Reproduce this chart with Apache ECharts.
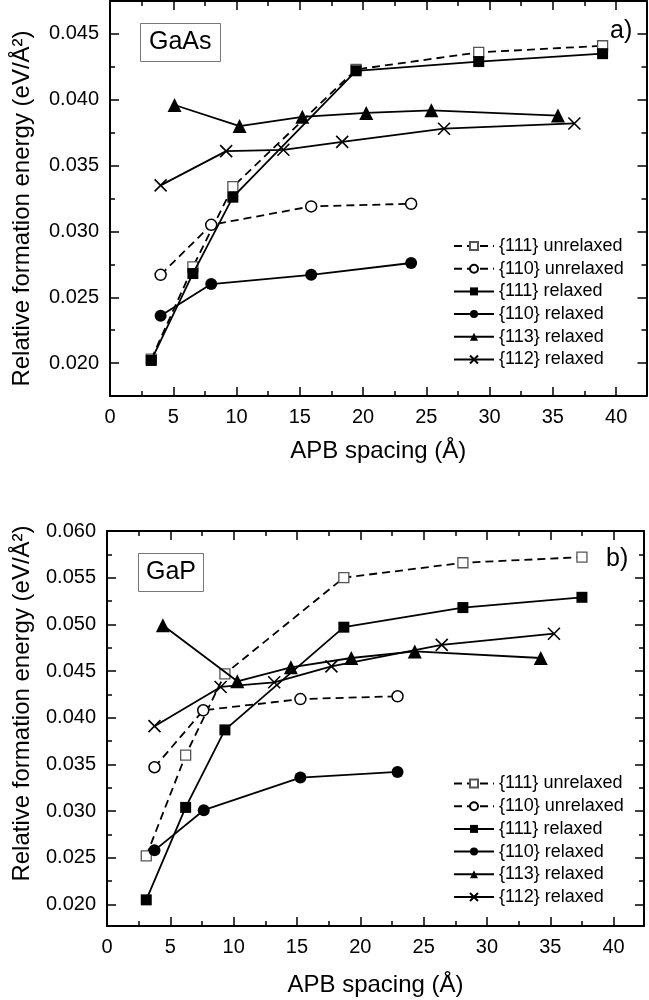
<!DOCTYPE html>
<html><head><meta charset="utf-8">
<script src="https://cdn.jsdelivr.net/npm/echarts@6/dist/echarts.min.js"></script>
<style>html,body{margin:0;padding:0;background:#fff}#c{width:649px;height:1000px}</style>
</head><body><div id="c"></div>
<script>
// ---- Data ----
const seriesNames = ['{111} unrelaxed', '{110} unrelaxed', '{111} relaxed', '{110} relaxed', '{113} relaxed', '{112} relaxed'];

// GaAs (panel a)
const gaas111uX = [3.26, 6.55, 9.71, 19.45, 29.14, 38.93];
const gaas111uY = [0.0203, 0.0273, 0.0334, 0.0423, 0.0436, 0.0441];
const gaas110uX = [4.0, 8.0, 15.9, 23.8];
const gaas110uY = [0.0267, 0.0305, 0.0319, 0.0321];
const gaas111rX = [3.26, 6.55, 9.71, 19.45, 29.14, 38.93];
const gaas111rY = [0.0202, 0.0268, 0.0326, 0.0422, 0.0429, 0.0435];
const gaas110rX = [4.0, 8.0, 15.9, 23.8];
const gaas110rY = [0.0236, 0.0260, 0.0267, 0.0276];
const gaas113rX = [5.1, 10.24, 15.2, 20.25, 25.4, 35.4];
const gaas113rY = [0.0396, 0.0380, 0.0387, 0.0390, 0.0392, 0.0388];
const gaas112rX = [4.0, 9.18, 13.7, 18.35, 26.4, 36.7];
const gaas112rY = [0.0335, 0.0361, 0.0362, 0.0368, 0.0378, 0.0382];

// GaP (panel b)
const gap111uX = [3.1, 6.21, 9.31, 18.7, 28.1, 37.5];
const gap111uY = [0.0252, 0.0360, 0.0447, 0.0550, 0.0566, 0.0572];
const gap110uX = [3.75, 7.6, 15.27, 22.94];
const gap110uY = [0.0347, 0.0408, 0.0420, 0.0423];
const gap111rX = [3.1, 6.21, 9.31, 18.7, 28.1, 37.5];
const gap111rY = [0.0205, 0.0304, 0.0387, 0.0497, 0.0518, 0.0529];
const gap110rX = [3.75, 7.64, 15.27, 22.94];
const gap110rY = [0.0258, 0.0301, 0.0336, 0.0342];
const gap113rX = [4.41, 10.29, 14.52, 19.29, 24.3, 34.25];
const gap113rY = [0.0499, 0.0439, 0.0454, 0.0464, 0.0471, 0.0464];
const gap112rX = [3.75, 8.97, 13.2, 17.72, 26.43, 35.29];
const gap112rY = [0.0391, 0.0433, 0.0438, 0.0455, 0.0478, 0.0490];

// axis ranges / ticks
const xRange = [0, 42.4];
const xStep = 5;
const yRangeA = [0.0175, 0.0475];
const yRangeB = [0.0177, 0.060];
const yStep = 0.005;

// ---- Chart ----
const FONT = "'Liberation Sans', Arial, sans-serif";
const chart = echarts.init(document.getElementById('c'), null, {renderer: 'canvas'});

const tickStyle = {color: '#000', width: 1.5};
function yFmt(v) {
  const k = v / yStep;
  return Math.abs(k - Math.round(k)) < 1e-6 ? v.toFixed(3) : '';
}
function xFmt(v) {
  const k = v / xStep;
  return Math.abs(k - Math.round(k)) < 1e-6 ? String(Math.round(v)) : '';
}
function xAxisDef(gi, pos, nameGap) {
  return {
    type: 'value', gridIndex: gi, position: pos, min: xRange[0], max: xRange[1], interval: xStep,
    axisLine: {show: true, onZero: false, lineStyle: {color: '#000', width: 2}},
    axisTick: {show: true, inside: true, length: 9, lineStyle: tickStyle},
    minorTick: {show: true, splitNumber: 2, length: 5, lineStyle: tickStyle},
    splitLine: {show: false}, minorSplitLine: {show: false},
    axisLabel: {show: pos === 'bottom', color: '#000', fontSize: 20, fontFamily: FONT, margin: 11,
      showMaxLabel: false, formatter: xFmt},
    name: pos === 'bottom' ? 'APB spacing (Å)' : '', nameLocation: 'middle', nameGap: nameGap,
    nameTextStyle: {color: '#000', fontSize: 24, fontFamily: FONT}
  };
}
function yAxisDef(gi, pos, range, nameGap, pad) {
  return {
    type: 'value', gridIndex: gi, position: pos, min: range[0], max: range[1],
    minInterval: yStep, maxInterval: yStep,
    axisLine: {show: true, onZero: false, lineStyle: {color: '#000', width: 2}},
    axisTick: {show: true, inside: true, length: 9, lineStyle: tickStyle},
    minorTick: {show: true, splitNumber: 2, length: 5, lineStyle: tickStyle},
    splitLine: {show: false}, minorSplitLine: {show: false},
    axisLabel: {show: pos === 'left', color: '#000', fontSize: 20, fontFamily: FONT, margin: 11,
      showMinLabel: false, showMaxLabel: true, formatter: yFmt},
    name: pos === 'left' ? 'Relative formation energy (eV/Å²)' : '', nameLocation: 'middle', nameGap: nameGap,
    nameTextStyle: {color: '#000', fontSize: 24, fontFamily: FONT, padding: pad}
  };
}

const styles = [
  {symbol: 'rect', symbolSize: 10, itemStyle: {color: '#fff', borderColor: '#555', borderWidth: 1.3}, dash: [8, 5]},
  {symbol: 'circle', symbolSize: 11, itemStyle: {color: '#fff', borderColor: '#000', borderWidth: 1.5}, dash: [8, 5]},
  {symbol: 'rect', symbolSize: 11, itemStyle: {color: '#000', borderColor: '#000', borderWidth: 0}, dash: 'solid'},
  {symbol: 'circle', symbolSize: 12, itemStyle: {color: '#000', borderColor: '#000', borderWidth: 0}, dash: 'solid'},
  {symbol: 'triangle', symbolSize: 14, itemStyle: {color: '#000', borderColor: '#000', borderWidth: 0}, dash: 'solid'},
  {symbol: 'path://M0,0L10,10M10,0L0,10', symbolSize: 12, itemStyle: {color: '#000', borderColor: '#000', borderWidth: 1.6}, dash: 'solid'}
];

function mk(idx, xs, ys, axisIdx) {
  const st = styles[idx];
  return {
    type: 'line', name: seriesNames[idx], xAxisIndex: axisIdx, yAxisIndex: axisIdx,
    data: xs.map((x, i) => [x, ys[i]]),
    symbol: st.symbol, symbolSize: st.symbolSize, showSymbol: true, showAllSymbol: true,
    color: '#000',
    itemStyle: st.itemStyle,
    lineStyle: {color: '#000', width: 1.8, type: st.dash},
    emphasis: {disabled: true}, z: 2 + idx
  };
}

const legendBase = {
  data: seriesNames, orient: 'vertical', left: 448, itemWidth: 40, itemHeight: 10, itemGap: 4.7,
  selectedMode: false, textStyle: {color: '#000', fontSize: 18, lineHeight: 18, fontFamily: FONT}
};

const boxTitle = (text, left, top, padH) => ({
  text: text, left: left, top: top, padding: [6, padH, 6, padH], borderColor: '#777', borderWidth: 1,
  textStyle: {color: '#000', fontSize: 25, fontWeight: 'normal', lineHeight: 27, fontFamily: FONT}
});
const plainTitle = (text, left, top) => ({
  text: text, left: left, top: top, padding: 0,
  textStyle: {color: '#000', fontSize: 25, fontWeight: 'normal', lineHeight: 27, fontFamily: FONT}
});

chart.setOption({
  animation: false,
  backgroundColor: '#fff',
  title: [boxTitle('GaAs', 140, 23, 9), plainTitle('a)', 610, 18), boxTitle('GaP', 138, 553, 8), plainTitle('b)', 606, 546)],
  grid: [
    {left: 110, top: 1, width: 536.5, height: 395, containLabel: false},
    {left: 107, top: 531, width: 537, height: 395, containLabel: false}
  ],
  xAxis: [xAxisDef(0, 'bottom', 43), xAxisDef(1, 'bottom', 47), xAxisDef(0, 'top', 0), xAxisDef(1, 'top', 0)],
  yAxis: [yAxisDef(0, 'left', yRangeA, 76, [0, 20, 0, 0]), yAxisDef(1, 'left', yRangeB, 73, [0, 0, 0, 50]),
          yAxisDef(0, 'right', yRangeA, 0, 0), yAxisDef(1, 'right', yRangeB, 0, 0)],
  legend: [Object.assign({}, legendBase, {top: 232}), Object.assign({}, legendBase, {top: 769.5})],
  series: [
    mk(0, gaas111uX, gaas111uY, 0), mk(1, gaas110uX, gaas110uY, 0), mk(2, gaas111rX, gaas111rY, 0),
    mk(3, gaas110rX, gaas110rY, 0), mk(4, gaas113rX, gaas113rY, 0), mk(5, gaas112rX, gaas112rY, 0),
    mk(0, gap111uX, gap111uY, 1), mk(1, gap110uX, gap110uY, 1), mk(2, gap111rX, gap111rY, 1),
    mk(3, gap110rX, gap110rY, 1), mk(4, gap113rX, gap113rY, 1), mk(5, gap112rX, gap112rY, 1)
  ]
});
</script></body></html>
